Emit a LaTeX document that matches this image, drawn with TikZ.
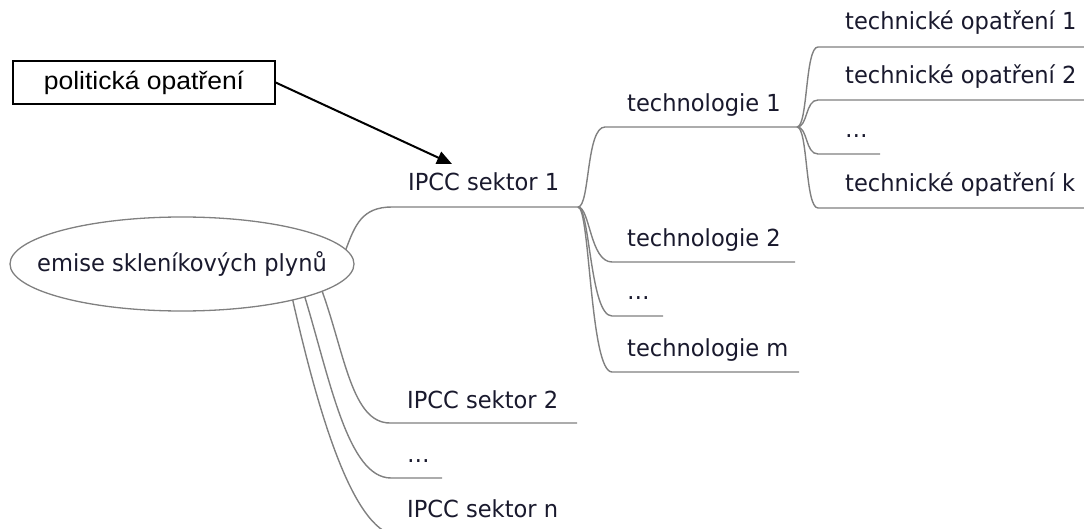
\documentclass[tikz,border=0pt]{standalone}
\usepackage{fontspec}
\setmainfont{DejaVu Sans}
\newfontfamily\mapfont[FakeStretch=0.96]{DejaVu Sans}
\newfontfamily\boxfont[FakeStretch=1.06]{Liberation Sans}
\usetikzlibrary{shapes.geometric,arrows.meta}
\definecolor{branchgray}{RGB}{128,128,128}
\definecolor{ink}{RGB}{25,25,45}
% zero-size label so that the ellipse keeps exactly its minimum size
\newcommand{\rootlabel}[1]{\smash{\raisebox{-8pt}{\makebox[0pt]{#1}}}}
\begin{document}
\begin{tikzpicture}[x=1pt,y=-1pt,
  lbl/.style={anchor=base west,inner sep=0pt,text=ink,font=\mapfont\fontsize{23.5}{28}\selectfont},
  branch/.style={draw=branchgray,line width=1.4pt},
  root/.style={ellipse,draw=branchgray,line width=1.3pt,minimum width=344pt,minimum height=94pt,
    inner sep=0pt,outer sep=0pt,text=ink,font=\mapfont\fontsize{23.5}{28}\selectfont},
  policy/.style={draw=black,line width=1.3pt,minimum width=262pt,minimum height=43pt,inner sep=0pt,
    font=\boxfont\fontsize{25}{30}\selectfont},
  pointer/.style={draw=black,line width=2pt,-{Triangle[length=15pt,width=13pt]}}]
\useasboundingbox (0,0) rectangle (1084,529);
\clip (0,0) rectangle (1084,529);

% root of the map
\node[root] (em) at (182,264) {\rootlabel{emise skleníkových plynů}};

% IPCC sectors
\node[lbl] (s1) at (408,191) {IPCC sektor 1};
\coordinate (s1a) at (392,207); \coordinate (s1b) at (578,207);
\node[lbl] (s2) at (407,408) {IPCC sektor 2};
\coordinate (s2a) at (390,423); \coordinate (s2b) at (577,423);
\node[lbl] (sd) at (407,462) {…};
\coordinate (sda) at (391,478); \coordinate (sdb) at (442,478);
\node[lbl] (sn) at (407,517) {IPCC sektor n};
\coordinate (sna) at (400,536); \coordinate (snb) at (578,536);

\draw[branch] (em.5) .. controls (355,225) and (362,207) .. (s1a) -- (s1b);
\draw[branch] (em.-11) .. controls (345,355) and (352,423) .. (s2a) -- (s2b);
\draw[branch] (em.-15) .. controls (330,380) and (348,478) .. (sda) -- (sdb);
\draw[branch] (em.-18) .. controls (320,420) and (355,536) .. (sna) -- (snb);

% technologies of sector 1
\node[lbl] (t1) at (627,112) {technologie 1};
\coordinate (t1a) at (605,127); \coordinate (t1b) at (797,127);
\node[lbl] (t2) at (627,247) {technologie 2};
\coordinate (t2a) at (612,262); \coordinate (t2b) at (795,262);
\node[lbl] (td) at (627,300) {…};
\coordinate (tda) at (612,316); \coordinate (tdb) at (663,316);
\node[lbl] (tm) at (627,356) {technologie m};
\coordinate (tma) at (612,372); \coordinate (tmb) at (799,372);

\draw[branch] (s1b) .. controls (590,207) and (586,127) .. (t1a) -- (t1b);
\draw[branch] (s1b) .. controls (590,207) and (590,262) .. (t2a) -- (t2b);
\draw[branch] (s1b) .. controls (590,207) and (590,316) .. (tda) -- (tdb);
\draw[branch] (s1b) .. controls (590,207) and (590,372) .. (tma) -- (tmb);

% technical measures of technology 1
\node[lbl] (o1) at (845,30) {technické opatření 1};
\coordinate (o1a) at (818,47); \coordinate (o1b) at (1090,47);
\node[lbl] (o2) at (845,84) {technické opatření 2};
\coordinate (o2a) at (818,100); \coordinate (o2b) at (1090,100);
\node[lbl] (od) at (845,138) {…};
\coordinate (oda) at (818,154); \coordinate (odb) at (880,154);
\node[lbl] (ok) at (845,192) {technické opatření k};
\coordinate (oka) at (818,208); \coordinate (okb) at (1090,208);

\draw[branch] (t1b) .. controls (808,127) and (805,47) .. (o1a) -- (o1b);
\draw[branch] (t1b) .. controls (808,127) and (805,100) .. (o2a) -- (o2b);
\draw[branch] (t1b) .. controls (808,127) and (805,154) .. (oda) -- (odb);
\draw[branch] (t1b) .. controls (808,127) and (805,208) .. (oka) -- (okb);

% policy measures acting on sector 1
\node[policy] (pol) at (144,82.5) {politická opatření};
\coordinate (tip) at (452,164);
\draw[pointer] (pol.east) -- (tip);
\end{tikzpicture}
\end{document}
